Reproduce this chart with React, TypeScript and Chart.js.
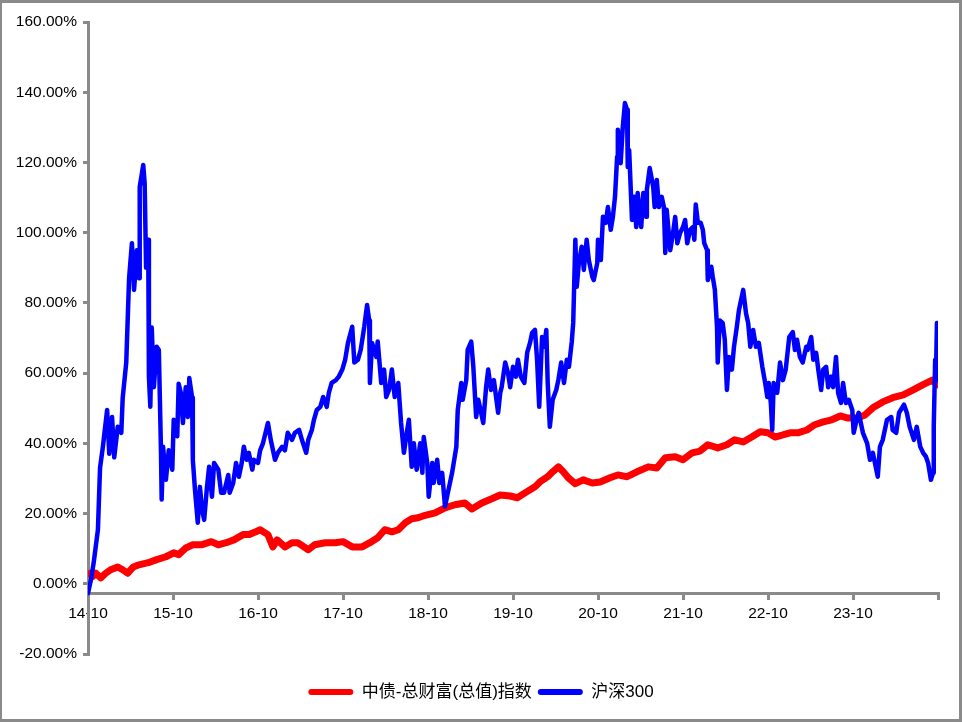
import React, { useEffect, useRef } from 'react';
import { Chart, registerables } from 'chart.js';

Chart.register(...registerables);

// x positions are months elapsed since 2014-10
const xTickLabels = ['14-10', '15-10', '16-10', '17-10', '18-10', '19-10', '20-10', '21-10', '22-10', '23-10', ''];
const yTickValues = [-20, 0, 20, 40, 60, 80, 100, 120, 140, 160];
const seriesNames = ['中债-总财富(总值)指数', '沪深300'];

const bondMonths = [
  0.3, 0.6, 1.1, 1.8, 2.5, 3.2, 4.2, 4.9, 5.6, 6.4,
  7.2, 8.5, 9.6, 11.0, 12.1, 12.8, 13.8, 14.8, 16.0, 17.4,
  18.4, 19.5, 20.6, 21.9, 22.7, 23.7, 24.3, 25.0, 25.4, 26.1,
  26.7, 27.8, 28.8, 29.6, 31.1, 32.0, 33.5, 34.9, 36.0, 37.3,
  38.7, 39.8, 40.9, 41.9, 42.9, 43.8, 44.8, 45.7, 46.6, 47.6,
  49.0, 50.4, 51.8, 53.2, 54.2, 55.6, 57.0, 58.2, 59.6, 60.6,
  61.7, 63.1, 63.8, 64.9, 65.6, 66.4, 67.1, 67.8, 68.8, 69.9,
  71.2, 72.3, 73.7, 74.8, 76.1, 77.5, 79.1, 80.3, 81.5, 82.9,
  84.0, 85.3, 86.4, 87.5, 88.9, 90.2, 91.3, 92.5, 93.7, 94.9,
  96.0, 97.0, 98.1, 99.1, 100.2, 101.5, 102.6, 103.8, 105.0, 106.2,
  107.3, 108.6, 109.7, 110.8, 112.2, 113.6, 115.1, 116.5, 117.9, 119.2,
  119.9,
];
const bondValues = [
  3, 2, 3, 1.7, 3, 4, 4.8, 4, 3, 4.8,
  5.4, 6, 6.8, 7.7, 8.8, 8.3, 10.2, 11.1, 11.1, 12,
  11.1, 11.7, 12.5, 14, 14, 14.8, 15.4, 14.5, 14, 10.5,
  12.5, 10.5, 11.7, 11.7, 9.7, 11.1, 11.7, 11.7, 12, 10.5,
  10.5, 11.7, 13.1, 15.4, 14.8, 15.4, 17.4, 18.5, 18.8, 19.5,
  20.2, 21.6, 22.5, 23, 21.3, 23, 24.2, 25.3, 25, 24.5,
  25.9, 27.6, 29, 30.5, 31.9, 33.3, 31.9, 30.2, 28.5, 29.6,
  28.7, 29, 30.2, 31, 30.5, 31.9, 33.3, 33, 35.9, 36.2,
  35.3, 37.3, 37.8, 39.6, 38.7, 39.6, 41, 40.4, 41.8, 43.3,
  43, 41.8, 42.4, 43, 43, 43.8, 45.3, 46.1, 46.7, 47.8,
  47.2, 47.2, 48.1, 50.1, 51.8, 53, 53.8, 55.2, 56.7, 58,
  56.7,
];

const csiMonths = [
  0, 0.4, 0.8, 1.4, 1.7, 2.1, 2.7, 3.0, 3.4, 3.7,
  4.2, 4.7, 4.9, 5.4, 5.8, 6.2, 6.5, 6.9, 7.2, 7.3,
  7.8, 8.0, 8.2, 8.5, 8.6, 8.8, 9.0, 9.3, 9.7, 10.0,
  10.3, 10.4, 10.6, 11.0, 11.4, 11.9, 12.1, 12.6, 12.8, 13.1,
  13.4, 13.8, 14.1, 14.3, 14.7, 14.8, 15.1, 15.5, 15.8, 16.1,
  16.4, 16.8, 17.1, 17.5, 17.8, 18.4, 18.8, 19.2, 19.8, 20.0,
  20.5, 20.9, 21.3, 21.7, 22.0, 22.4, 22.7, 23.2, 23.4, 24.0,
  24.3, 24.7, 25.4, 25.8, 26.4, 26.8, 27.4, 27.8, 28.2, 28.8,
  29.2, 29.8, 30.2, 30.8, 31.1, 31.6, 31.9, 32.3, 32.8, 33.2,
  33.7, 34.0, 34.4, 35.0, 35.4, 35.9, 36.3, 36.7, 37.3, 37.6,
  38.1, 38.5, 39.0, 39.4, 39.7, 39.8, 40.1, 40.7, 40.9, 41.4,
  41.8, 42.1, 42.5, 42.9, 43.3, 43.8, 44.2, 44.6, 45.0, 45.3,
  45.7, 46.0, 46.4, 46.9, 47.2, 47.4, 47.9, 48.1, 48.6, 48.8,
  49.3, 49.6, 50.0, 50.4, 50.8, 51.4, 52.0, 52.2, 52.7, 52.9,
  53.4, 53.6, 54.1, 54.4, 54.8, 55.1, 55.5, 55.8, 56.2, 56.5,
  56.9, 57.3, 57.9, 58.2, 58.4, 58.9, 59.3, 59.6, 60.0, 60.4,
  60.7, 61.1, 61.6, 62.0, 62.4, 62.7, 63.1, 63.4, 63.7, 64.1,
  64.4, 64.7, 64.9, 65.2, 65.6, 66.1, 66.4, 66.8, 67.2, 67.6,
  67.9, 68.3, 68.5, 68.8, 69.0, 69.3, 69.7, 70.0, 70.4, 70.7,
  71.2, 71.4, 71.9, 72.0, 72.4, 72.7, 73.1, 73.4, 73.8, 74.1,
  74.4, 74.7, 74.8, 75.2, 75.5, 75.8, 76.1, 76.2, 76.4, 76.8,
  77.1, 77.4, 77.6, 78.1, 78.4, 78.8, 78.9, 79.3, 79.8, 80.0,
  80.3, 80.6, 81.0, 81.3, 81.5, 81.7, 82.2, 82.6, 82.9, 83.2,
  83.6, 84.0, 84.3, 84.6, 85.0, 85.4, 85.6, 85.8, 86.1, 86.5,
  86.8, 87.0, 87.4, 87.5, 88.0, 88.2, 88.5, 88.8, 88.9, 89.2,
  89.6, 89.9, 90.2, 90.5, 90.9, 91.2, 91.6, 91.9, 92.5, 92.9,
  93.2, 93.5, 93.9, 94.3, 94.7, 95.2, 95.6, 95.9, 96.1, 96.4,
  96.6, 96.8, 97.3, 97.7, 98.1, 98.5, 99.0, 99.5, 99.8, 100.1,
  100.5, 100.9, 101.4, 101.6, 102.1, 102.4, 102.8, 103.1, 103.5, 103.8,
  104.2, 104.5, 104.9, 105.2, 105.6, 105.9, 106.3, 106.6, 107.0, 107.4,
  107.9, 108.1, 108.6, 108.8, 109.4, 110.0, 110.4, 110.8, 111.5, 111.8,
  112.2, 112.8, 113.4, 113.6, 114.1, 114.5, 115.2, 115.6, 116.0, 116.6,
  117.0, 117.5, 117.9, 118.3, 118.6, 119.0, 119.3, 119.4, 119.6, 119.7,
  119.85, 119.95,
];
const csiValues = [
  -2.7, 1, 6, 15.4, 33, 39, 49.5, 37, 47.5, 36,
  44.7, 43, 53, 63, 87, 97, 83.7, 95, 87, 113,
  119.3, 114, 90, 98, 59, 50.4, 73, 56, 67.5, 66.6,
  38, 24, 39, 29.6, 38, 32.5, 46.7, 42, 57, 54.4,
  45.8, 56, 47.5, 58.6, 53, 35.3, 26.8, 17.4, 27.6, 21,
  18.2, 27.6, 33.3, 24.8, 34.4, 32.5, 25.9, 25.9, 31, 25.9,
  28.7, 34.4, 30.5, 34.4, 39, 35.3, 37.3, 32.5, 35.3, 34.4,
  38, 40, 45.8, 41, 35.3, 37.3, 39, 38, 43, 41,
  43, 43.8, 41, 37.3, 41, 43.8, 46.7, 49.5, 50.4, 53.2,
  50.4, 54.4, 57.2, 58, 59, 61, 63.8, 68.6, 73.2, 63,
  63.8, 66.6, 73.2, 79.4, 75, 57.2, 68.6, 64.6, 69, 57.2,
  61, 53.2, 55.2, 61, 53.2, 57.2, 45.8, 37.3, 43, 46.7,
  33.3, 40, 32.5, 40, 31.6, 41.8, 34.4, 24.8, 34.4, 28.7,
  35.3, 28.7, 31.6, 22, 25.9, 31.6, 39, 49.5, 57.2, 52.4,
  58, 66.6, 69, 61.8, 47.5, 52.4, 48.7, 45.8, 56, 61,
  55.2, 58, 48.7, 54.4, 56, 63, 60, 56, 61.8, 59,
  63.8, 59, 57.2, 65.8, 68.6, 71.5, 72.3, 63.8, 50.4, 70.3,
  67.5, 72.3, 57.2, 44.7, 52.4, 55.2, 58, 63, 57.2, 63.8,
  61.8, 69, 74.3, 98, 84.6, 91.4, 96, 89.4, 98, 92.2,
  87.4, 86.5, 91.4, 98, 92.2, 104.5, 102.8, 107.3, 100.8, 104.5,
  110.2, 121.6, 129.3, 119.8, 130.1, 136.9, 135, 118.7, 123.5, 103.6,
  110.2, 101.6, 111.3, 101.6, 111.3, 104.5, 112.2, 118.4, 113, 107.3,
  115, 107.3, 110.2, 107.3, 94.2, 106.5, 95, 100, 104.5, 97,
  100, 101.6, 103.6, 97, 100.8, 101.6, 98, 108, 102.8, 102.8,
  100.8, 97, 95, 86.5, 90.3, 87.4, 83.7, 73.2, 63, 75,
  74.3, 69.5, 55.2, 64.6, 61, 67.5, 73.2, 78, 83.7, 77,
  74.3, 67.5, 72.3, 67.5, 68.6, 61.8, 57.2, 53.2, 57.2, 51.5,
  43.8, 57.2, 54.4, 63, 58, 61, 70.3, 71.7, 66.6, 69.5,
  64.6, 63, 67.5, 66.6, 70.3, 63.8, 65.8, 61, 55.2, 61,
  61.8, 56, 59, 56, 64.6, 54.4, 51.5, 57.2, 51.5, 52.4,
  49.5, 43, 47.5, 48.7, 43, 40, 35.3, 37.3, 30.5, 39,
  41, 46.7, 47.5, 43.8, 43, 48.7, 51, 48.7, 44.7, 41,
  44.7, 39, 37.3, 36.2, 34.4, 29.6, 31.6, 44.7, 63.8, 58,
  74.3, 58,
];

const AXIS_COLOR = '#8a8a8a';
const LATIN_FONT = "'Liberation Sans', Arial, 'Noto Sans CJK SC', sans-serif";

export default function App() {
  const canvasRef = useRef<HTMLCanvasElement | null>(null);

  useEffect(() => {
    const canvas = canvasRef.current;
    if (!canvas) return;
    const tickFont = { family: LATIN_FONT, size: 15.5 };

    const chart = new Chart(canvas, {
      type: 'line',
      data: {
        datasets: [
          {
            label: seriesNames[0],
            data: bondMonths.map((m, i) => ({ x: m, y: bondValues[i] })),
            borderColor: '#ff0000',
            backgroundColor: '#ff0000',
            borderWidth: 7,
            pointRadius: 0,
            borderJoinStyle: 'round',
            borderCapStyle: 'round',
            tension: 0,
            order: 1,
          },
          {
            label: seriesNames[1],
            data: csiMonths.map((m, i) => ({ x: m, y: csiValues[i] })),
            borderColor: '#0000ff',
            backgroundColor: '#0000ff',
            borderWidth: 4.5,
            pointRadius: 0,
            borderJoinStyle: 'round',
            borderCapStyle: 'round',
            tension: 0,
            order: 0,
          },
        ],
      },
      options: {
        responsive: false,
        animation: false,
        devicePixelRatio: 1,
        events: [],
        layout: { padding: { top: 22, bottom: 11.5, left: 0, right: 0 } },
        plugins: {
          tooltip: { enabled: false },
          legend: {
            position: 'bottom',
            align: 'center',
            title: { display: true, text: '', padding: { top: 13.5, bottom: 0 }, font: { size: 10, lineHeight: 1 } },
            labels: {
              boxWidth: 45,
              boxHeight: 6,
              padding: 6,
              color: '#000',
              font: { family: LATIN_FONT, size: 17 },
              generateLabels: (c: any) => {
                const items = (Chart.defaults.plugins.legend.labels as any).generateLabels(c);
                return items
                  .sort((a: any, b: any) => a.datasetIndex - b.datasetIndex)
                  .map((it: any) => ({ ...it, lineWidth: 0, fillStyle: it.strokeStyle, borderRadius: 3 }));
              },
            },
          },
        },
        scales: {
          x: {
            type: 'linear',
            min: 0,
            max: 120,
            position: { y: -2.7 } as any,
            afterBuildTicks: (s: any) => {
              s.ticks = xTickLabels.map((_, i) => ({ value: i * 12 }));
            },
            ticks: {
              autoSkip: false,
              maxRotation: 0,
              padding: 6,
              color: '#000',
              font: tickFont,
              callback: (v: any) => xTickLabels[Math.round(Number(v) / 12)] ?? '',
            },
            grid: { drawOnChartArea: false, drawTicks: true, tickLength: 5, lineWidth: 3, color: AXIS_COLOR },
            border: { display: true, width: 3, color: AXIS_COLOR },
          },
          y: {
            type: 'linear',
            position: 'left',
            min: -20,
            max: 160,
            afterBuildTicks: (s: any) => {
              s.ticks = yTickValues.map((v) => ({ value: v }));
            },
            afterFit: (s: any) => {
              s.width = 88;
            },
            ticks: {
              padding: 6,
              color: '#000',
              font: tickFont,
              callback: (v: any) => Number(v).toFixed(2) + '%',
            },
            grid: { drawOnChartArea: false, drawTicks: true, tickLength: 5, lineWidth: 3, color: AXIS_COLOR },
            border: { display: true, width: 3, color: AXIS_COLOR },
          },
          yR: {
            type: 'linear',
            position: 'right',
            display: true,
            afterFit: (s: any) => {
              s.width = 24;
            },
            ticks: { display: false },
            grid: { display: false },
            border: { display: false },
          },
        },
      } as any,
    });

    return () => chart.destroy();
  }, []);

  return (
    <div style={{ position: 'fixed', left: 0, top: 0, width: 962, height: 722, background: '#fff' }}>
      <canvas ref={canvasRef} width={962} height={722} style={{ position: 'absolute', left: 0, top: 0, width: 962, height: 722 }} />
      <div
        style={{
          position: 'absolute',
          left: 0,
          top: 0,
          width: 962,
          height: 722,
          boxSizing: 'border-box',
          border: `3px solid ${AXIS_COLOR}`,
          borderLeftWidth: 2,
          pointerEvents: 'none',
        }}
      />
    </div>
  );
}
